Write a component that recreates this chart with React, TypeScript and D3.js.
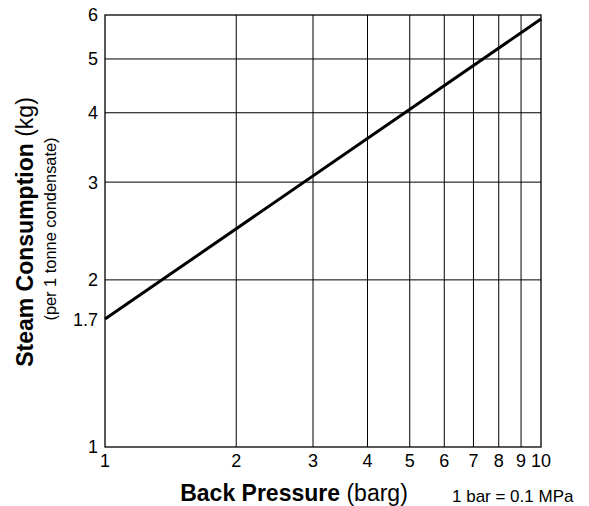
import React from "react";
import * as d3 from "d3";

const W = 589;
const H = 506;

const pressure = [1, 10];
const consumption = [1.7, 5.9];
const xTicks = [1, 2, 3, 4, 5, 6, 7, 8, 9, 10];
const yTicks = [1, 1.7, 2, 3, 4, 5, 6];
const xGrid = [2, 3, 4, 5, 6, 7, 8, 9];
const yGrid = [2, 3, 4, 5];

const FONT = "'Liberation Sans', Arial, Helvetica, sans-serif";

export default function App() {
  const x = d3.scaleLog().domain([1, 10]).range([105, 541]);
  const y = d3.scaleLog().domain([1, 6]).range([447, 15]);
  const line = d3
    .line<number>()
    .x((_, i) => x(pressure[i]))
    .y((d) => y(d));

  return (
    <svg
      width={W}
      height={H}
      style={{ position: "absolute", left: 0, top: 0, background: "#fff" }}
      fontFamily={FONT}
    >
      <rect x={0} y={0} width={W} height={H} fill="#fff" />
      {xGrid.map((v) => (
        <line key={"gx" + v} x1={x(v)} x2={x(v)} y1={y(1)} y2={y(6)} stroke="#000" strokeWidth={1} />
      ))}
      {yGrid.map((v) => (
        <line key={"gy" + v} x1={x(1)} x2={x(10)} y1={y(v)} y2={y(v)} stroke="#000" strokeWidth={1} />
      ))}
      <rect
        x={x(1)}
        y={y(6)}
        width={x(10) - x(1)}
        height={y(1) - y(6)}
        fill="none"
        stroke="#000"
        strokeWidth={1.3}
      />
      <path d={line(consumption) || ""} fill="none" stroke="#000" strokeWidth={3} />
      {yTicks.map((v) => (
        <text key={"yt" + v} x={98} y={y(v)} dy="0.36em" textAnchor="end" fontSize={18} fill="#000">
          {String(v)}
        </text>
      ))}
      {xTicks.map((v) => (
        <text key={"xt" + v} x={x(v)} y={467} textAnchor="middle" fontSize={18} fill="#000">
          {String(v)}
        </text>
      ))}
      <text x={294} y={501} textAnchor="middle" fontSize={23} fill="#000">
        <tspan fontWeight="bold">Back Pressure</tspan>
        <tspan> (barg)</tspan>
      </text>
      <text x={452} y={502} fontSize={17} fill="#000">
        1 bar = 0.1 MPa
      </text>
      <text transform={`translate(33,232) rotate(-90)`} textAnchor="middle" fontSize={23} fill="#000">
        <tspan fontWeight="bold">Steam Consumption</tspan>
        <tspan> (kg)</tspan>
      </text>
      <text transform={`translate(56,229) rotate(-90)`} textAnchor="middle" fontSize={16.4} fill="#000">
        (per 1 tonne condensate)
      </text>
    </svg>
  );
}
